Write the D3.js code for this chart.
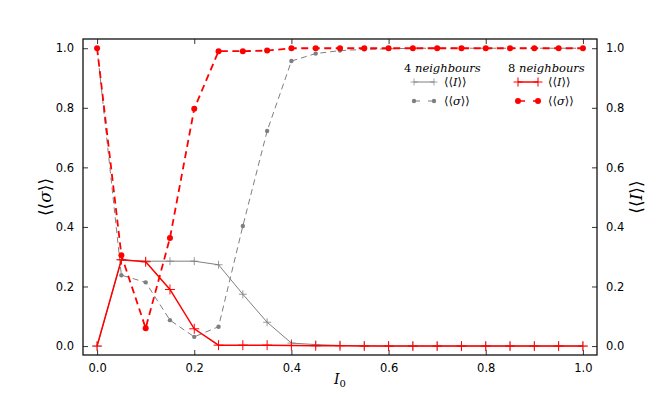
<!DOCTYPE html>
<html>
<head>
<meta charset="utf-8">
<script src="https://cdn.jsdelivr.net/npm/d3@7"></script>
<style>
  body { margin: 0; background: #fff; }
  text { fill: #000; }
</style>
</head>
<body>
<div id="chart"></div>
<script>
// x values (I_0)
var I0 = [0.0, 0.05, 0.1, 0.15, 0.2, 0.25, 0.3, 0.35, 0.4, 0.45, 0.5,
          0.55, 0.6, 0.65, 0.7, 0.75, 0.8, 0.85, 0.9, 0.95, 1.0];

// 4 neighbours
var meanI4 = [0.0, 0.289, 0.285, 0.285, 0.285, 0.273, 0.174, 0.08, 0.01, 0.005, 0.002,
              0.001, 0.0, 0.0, 0.0, 0.0, 0.0, 0.0, 0.0, 0.0, 0.0];
var meanS4 = [1.0, 0.238, 0.214, 0.087, 0.031, 0.065, 0.403, 0.722, 0.957, 0.982, 0.992,
              0.996, 0.998, 1.0, 1.0, 1.0, 1.0, 1.0, 1.0, 1.0, 1.0];

// 8 neighbours
var meanI8 = [0.0, 0.29, 0.283, 0.19, 0.058, 0.003, 0.003, 0.003, 0.002, 0.001, 0.001,
              0.0, 0.0, 0.0, 0.0, 0.0, 0.0, 0.0, 0.0, 0.0, 0.0];
var meanS8 = [1.0, 0.305, 0.06, 0.363, 0.797, 0.99, 0.99, 0.992, 1.0, 1.0, 1.0,
              1.0, 1.0, 1.0, 1.0, 1.0, 1.0, 1.0, 1.0, 1.0, 1.0];

var xTicks = [0.0, 0.2, 0.4, 0.6, 0.8, 1.0];
var yTicks = [0.0, 0.2, 0.4, 0.6, 0.8, 1.0];

var svgWidth = 664, svgHeight = 395;
var margins = { top: 39, bottom: 40, left: 83, right: 67 };
var width = svgWidth - margins.left - margins.right;
var height = svgHeight - margins.top - margins.bottom;

var svg = d3.select("#chart")
    .append("svg")
    .attr("width", svgWidth)
    .attr("height", svgHeight)
    .append("g")
    .attr("transform", "translate(" + margins.left + "," + margins.top + ")");

var x = d3.scaleLinear().domain([-0.029, 1.029]).range([0, width]);
var yL = d3.scaleLinear().domain([-0.03, 1.031]).range([height, 0]);
var yR = d3.scaleLinear().domain([-0.03, 1.031]).range([height, 0]);

var tickFmt = d3.format(".1f");
var sansFont = "DejaVu Sans, sans-serif";
var serifFont = "DejaVu Serif, serif";

// Axes with inward ticks
var bottomAxis = d3.axisBottom(x).tickValues(xTicks).tickFormat(tickFmt).tickSizeInner(-5).tickSizeOuter(0).tickPadding(9);
var topAxis = d3.axisTop(x).tickValues(xTicks).tickFormat("").tickSizeInner(-5).tickSizeOuter(0);
var leftAxis = d3.axisLeft(yL).tickValues(yTicks).tickFormat(tickFmt).tickSizeInner(-5).tickSizeOuter(0).tickPadding(9);
var rightAxis = d3.axisRight(yR).tickValues(yTicks).tickFormat(tickFmt).tickSizeInner(-5).tickSizeOuter(0).tickPadding(9);

function styleAxis(g) {
    g.select(".domain").remove();
    g.selectAll(".tick line").attr("stroke", "#000").attr("stroke-width", 0.8);
    g.selectAll(".tick text").attr("font-family", sansFont).attr("font-size", 11.5).attr("fill", "#000");
}

svg.append("g").attr("transform", "translate(0," + height + ")").call(bottomAxis).call(styleAxis);
svg.append("g").call(topAxis).call(styleAxis);
svg.append("g").call(leftAxis).call(styleAxis);
svg.append("g").attr("transform", "translate(" + width + ",0)").call(rightAxis).call(styleAxis);

// lines
function lineFor(vals, scale) {
    return d3.line()
        .x(function(d, i) { return x(I0[i]); })
        .y(function(d) { return scale(d); })(vals);
}

function plusPath(s) {
    return "M" + (-s) + ",0H" + s + "M0," + (-s) + "V" + s;
}

var grey = "#7f7f7f";

// 4 neighbours: <<I>> solid with plus, <<sigma>> dashed with dots
svg.append("path")
    .attr("d", lineFor(meanI4, yR))
    .attr("fill", "none").attr("stroke", grey).attr("stroke-width", 1);
svg.selectAll(".p4").data(meanI4).enter().append("path")
    .attr("class", "p4")
    .attr("transform", function(d, i) { return "translate(" + x(I0[i]) + "," + yR(d) + ")"; })
    .attr("d", plusPath(4))
    .attr("stroke", grey).attr("stroke-width", 0.8);

svg.append("path")
    .attr("d", lineFor(meanS4, yL))
    .attr("fill", "none").attr("stroke", grey).attr("stroke-width", 1)
    .attr("stroke-dasharray", "6,4");
svg.selectAll(".d4").data(meanS4).enter().append("circle")
    .attr("class", "d4")
    .attr("cx", function(d, i) { return x(I0[i]); })
    .attr("cy", function(d) { return yL(d); })
    .attr("r", 2.2)
    .attr("fill", grey);

// 8 neighbours
svg.append("path")
    .attr("d", lineFor(meanI8, yR))
    .attr("fill", "none").attr("stroke", "red").attr("stroke-width", 1.5);
svg.selectAll(".p8").data(meanI8).enter().append("path")
    .attr("class", "p8")
    .attr("transform", function(d, i) { return "translate(" + x(I0[i]) + "," + yR(d) + ")"; })
    .attr("d", plusPath(5))
    .attr("stroke", "red").attr("stroke-width", 1);

svg.append("path")
    .attr("d", lineFor(meanS8, yL))
    .attr("fill", "none").attr("stroke", "red").attr("stroke-width", 1.8)
    .attr("stroke-dasharray", "7,4.5");
svg.selectAll(".d8").data(meanS8).enter().append("circle")
    .attr("class", "d8")
    .attr("cx", function(d, i) { return x(I0[i]); })
    .attr("cy", function(d) { return yL(d); })
    .attr("r", 3)
    .attr("fill", "red");

// frame
svg.append("rect")
    .attr("width", width).attr("height", height)
    .attr("fill", "none").attr("stroke", "#111").attr("stroke-width", 1.3);

// axis labels
svg.append("text")
    .attr("x", x(0.5)).attr("y", height + 29)
    .attr("text-anchor", "middle")
    .attr("font-family", serifFont).attr("font-size", 14)
    .html('<tspan font-style="italic">I</tspan><tspan font-size="10" dy="3">0</tspan>');

svg.append("text")
    .attr("transform", "translate(" + (-38) + "," + (height / 2) + ") rotate(-90)")
    .attr("text-anchor", "middle").attr("dy", "0.35em")
    .attr("font-family", serifFont).attr("font-size", 17)
    .html('\u27E8\u27E8<tspan font-style="italic">\u03C3</tspan>\u27E9\u27E9');

svg.append("text")
    .attr("transform", "translate(" + (width + 39) + "," + (height / 2) + ") rotate(-90)")
    .attr("text-anchor", "middle").attr("dy", "0.35em")
    .attr("font-family", serifFont).attr("font-size", 17)
    .html('\u27E8\u27E8<tspan font-style="italic">I</tspan>\u27E9\u27E9');

// legend (positions in svg coords, shifted back into plot group)
var legend = svg.append("g").attr("transform", "translate(" + (-margins.left) + "," + (-margins.top) + ")");

function legendColumn(x0, title, color, lw, plusS, dotR, dash) {
    legend.append("text")
        .attr("x", x0 - 10).attr("y", 72)
        .attr("font-family", serifFont).attr("font-size", 11.5)
        .html(title.split(" ")[0] + ' <tspan font-style="italic">' + title.split(" ")[1] + '</tspan>');
    // <<I>> row
    legend.append("line")
        .attr("x1", x0).attr("x2", x0 + 20).attr("y1", 82).attr("y2", 82)
        .attr("stroke", color).attr("stroke-width", lw);
    [x0, x0 + 20].forEach(function(px) {
        legend.append("path")
            .attr("transform", "translate(" + px + ",82)")
            .attr("d", plusPath(plusS))
            .attr("stroke", color).attr("stroke-width", lw * 0.7);
    });
    legend.append("text")
        .attr("x", x0 + 30).attr("y", 86)
        .attr("font-family", serifFont).attr("font-size", 11.5)
        .html('\u27E8\u27E8<tspan font-style="italic">I</tspan>\u27E9\u27E9');
    // <<sigma>> row
    legend.append("line")
        .attr("x1", x0).attr("x2", x0 + 20).attr("y1", 101).attr("y2", 101)
        .attr("stroke", color).attr("stroke-width", lw)
        .attr("stroke-dasharray", dash);
    [x0, x0 + 20].forEach(function(px) {
        legend.append("circle")
            .attr("cx", px).attr("cy", 101).attr("r", dotR)
            .attr("fill", color);
    });
    legend.append("text")
        .attr("x", x0 + 30).attr("y", 105)
        .attr("font-family", serifFont).attr("font-size", 11.5)
        .html('\u27E8\u27E8<tspan font-style="italic">\u03C3</tspan>\u27E9\u27E9');
}

legendColumn(414, "4 neighbours", grey, 1, 3.5, 2.2, "6,8");
legendColumn(518, "8 neighbours", "red", 1.5, 4.5, 3, "7,8");
</script>
</body>
</html>
